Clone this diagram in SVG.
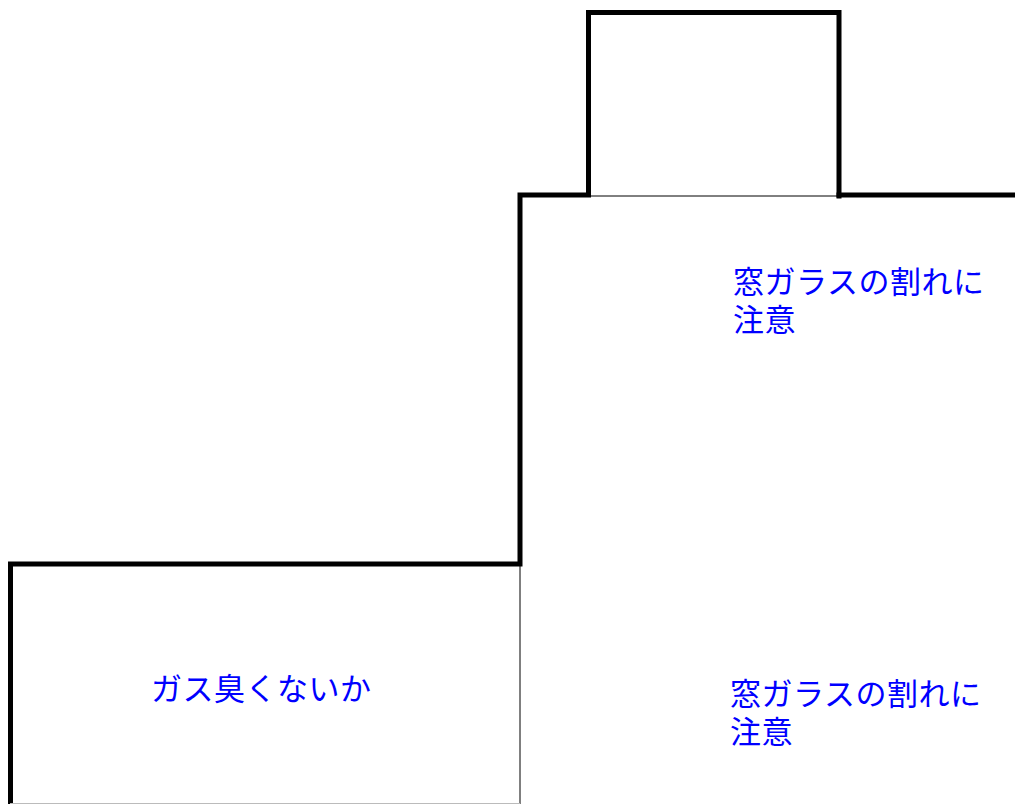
<svg xmlns="http://www.w3.org/2000/svg" width="1015" height="804" viewBox="0 0 1015 804">
<style>
.thick{fill:none;stroke:#000;stroke-width:5;stroke-linecap:square;stroke-linejoin:miter}
.thin{fill:none;stroke:#000;stroke-width:1}
.faint{fill:none;stroke:#bbb;stroke-width:1}
.lbl{font-family:"Noto Sans CJK JP","Noto Sans",sans-serif;font-size:31px;letter-spacing:0.5px;fill:#0000ff}
</style>
<rect x="0" y="0" width="1015" height="804" fill="#fff"/>
<g id="walls">
<path class="thick" d="M588.5,12.5 H839 V196"/>
<path class="thick" d="M588.5,12.5 V195 H520 V564 H10.5 V804"/>
<path class="thick" d="M839,195 H1015"/>
<line class="thin" x1="588" y1="196" x2="839" y2="196"/>
<line class="thin" x1="520" y1="564" x2="520" y2="804"/>
<line class="faint" x1="10" y1="803.5" x2="520" y2="803.5"/>
</g>
<g id="label-top">
<text class="lbl" x="733" y="293">窓ガラスの割れに<tspan x="733" dy="38">注意</tspan></text>
</g>
<g id="label-bottom">
<text class="lbl" x="730" y="705">窓ガラスの割れに<tspan x="730" dy="38">注意</tspan></text>
</g>
<g id="label-gas">
<text class="lbl" x="151" y="700">ガス臭くないか</text>
</g>
</svg>
